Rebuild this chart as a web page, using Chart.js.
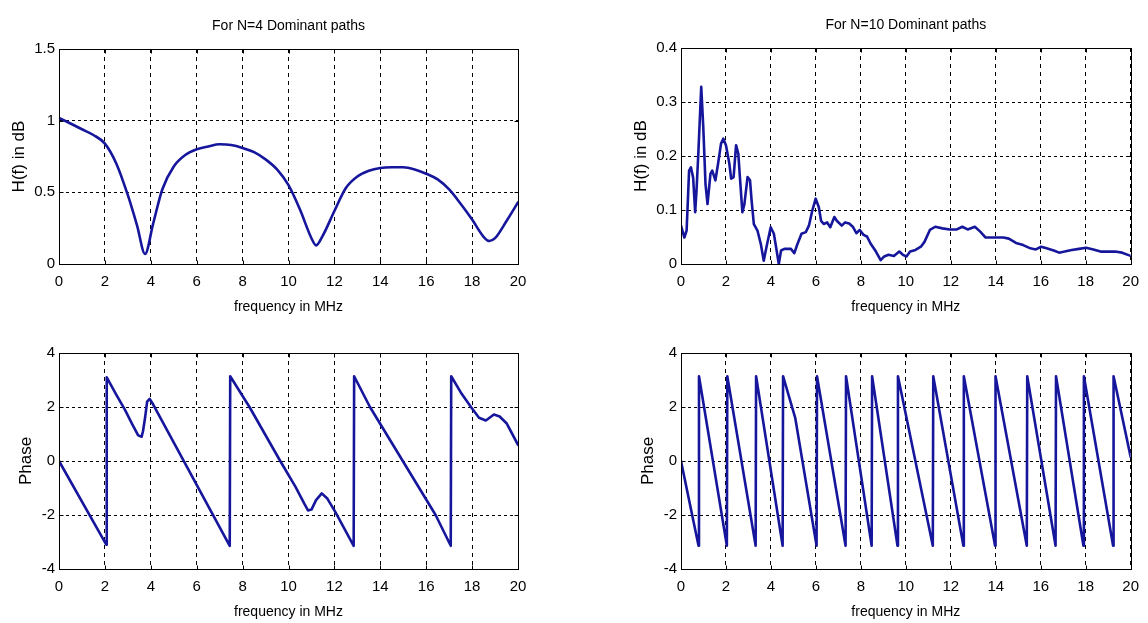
<!DOCTYPE html>
<html><head><meta charset="utf-8">
<script src="https://cdn.jsdelivr.net/npm/chart.js@4.4.1/dist/chart.umd.min.js"></script>
<style>
html,body{margin:0;padding:0;background:#fff;width:1148px;height:623px;overflow:hidden}
canvas{position:absolute;left:0;top:0}
</style></head>
<body>
<canvas id="c1" width="1148" height="623"></canvas>
<canvas id="c2" width="1148" height="623"></canvas>
<canvas id="c3" width="1148" height="623"></canvas>
<canvas id="c4" width="1148" height="623"></canvas>
<script>
// ---- tick labels ----
const xTicks = [0, 2, 4, 6, 8, 10, 12, 14, 16, 18, 20];
const yTicksMagN4 = [0, 0.5, 1, 1.5];
const yTicksMagN10 = [0, 0.1, 0.2, 0.3, 0.4];
const yTicksPhase = [-4, -2, 0, 2, 4];

// ---- N=4 magnitude ----
const freqMagN4 = [0, 0.5, 1.0, 1.5, 2.0, 2.5, 3.0, 3.4, 3.75, 4.1, 4.5, 5.0, 5.5, 6.0, 6.5, 7.0, 7.5, 8.0, 8.5, 9.0, 9.5, 10.0, 10.5, 11.0, 11.2, 11.5, 12.0, 12.5, 13.0, 13.5, 14.0, 14.5, 15.0, 15.5, 16.0, 16.5, 17.0, 17.5, 18.0, 18.5, 18.75, 19.0, 19.5, 20.0];
const magN4 = [1.02, 0.98, 0.94, 0.90, 0.84, 0.70, 0.48, 0.27, 0.07, 0.28, 0.52, 0.68, 0.76, 0.80, 0.82, 0.835, 0.83, 0.81, 0.78, 0.73, 0.66, 0.55, 0.38, 0.18, 0.13, 0.20, 0.37, 0.53, 0.61, 0.65, 0.67, 0.675, 0.675, 0.66, 0.63, 0.59, 0.52, 0.42, 0.31, 0.19, 0.16, 0.18, 0.30, 0.43];

// ---- N=10 magnitude ----
const freqMagN10 = [0, 0.15, 0.25, 0.36, 0.44, 0.54, 0.63, 0.69, 0.77, 0.9, 0.99, 1.09, 1.18, 1.31, 1.39, 1.53, 1.65, 1.78, 1.88, 2.0, 2.15, 2.23, 2.34, 2.45, 2.55, 2.63, 2.73, 2.82, 2.96, 3.07, 3.14, 3.24, 3.4, 3.55, 3.68, 3.8, 3.99, 4.13, 4.23, 4.35, 4.45, 4.6, 4.89, 5.04, 5.18, 5.36, 5.55, 5.69, 5.84, 5.99, 6.13, 6.23, 6.35, 6.5, 6.64, 6.82, 6.93, 7.15, 7.3, 7.48, 7.64, 7.8, 7.95, 8.12, 8.27, 8.43, 8.67, 8.88, 9.04, 9.23, 9.47, 9.71, 9.87, 10.03, 10.19, 10.43, 10.67, 10.83, 11.07, 11.31, 11.63, 11.95, 12.27, 12.51, 12.75, 13.07, 13.31, 13.55, 13.87, 14.34, 14.58, 14.9, 15.22, 15.54, 15.78, 16.02, 16.26, 16.58, 16.82, 17.06, 17.38, 17.7, 18.02, 18.34, 18.66, 18.98, 19.3, 19.62, 20];
const magN10 = [0.071, 0.049, 0.062, 0.173, 0.179, 0.16, 0.096, 0.136, 0.204, 0.328, 0.254, 0.148, 0.111, 0.167, 0.173, 0.155, 0.186, 0.223, 0.232, 0.22, 0.186, 0.158, 0.161, 0.22, 0.204, 0.155, 0.096, 0.111, 0.161, 0.155, 0.118, 0.074, 0.062, 0.037, 0.006, 0.031, 0.068, 0.056, 0.031, 0.0, 0.025, 0.028, 0.028, 0.02, 0.037, 0.056, 0.059, 0.071, 0.099, 0.121, 0.105, 0.08, 0.074, 0.077, 0.068, 0.087, 0.08, 0.071, 0.077, 0.075, 0.069, 0.057, 0.063, 0.054, 0.051, 0.038, 0.023, 0.007, 0.014, 0.017, 0.015, 0.023, 0.017, 0.014, 0.023, 0.026, 0.032, 0.041, 0.063, 0.069, 0.066, 0.064, 0.064, 0.069, 0.064, 0.069, 0.06, 0.049, 0.049, 0.049, 0.047, 0.039, 0.035, 0.029, 0.027, 0.032, 0.029, 0.025, 0.021, 0.023, 0.026, 0.028, 0.03, 0.027, 0.023, 0.023, 0.023, 0.021, 0.015];

// ---- N=4 phase ----
const freqPhaseN4 = [0, 2.06, 2.08, 2.5, 2.87, 3.2, 3.45, 3.6, 3.66, 3.75, 3.84, 3.95, 4.1, 7.44, 7.46, 8.3, 9.64, 10.3, 10.7, 10.85, 11.0, 11.2, 11.45, 11.7, 12.05, 12.84, 12.86, 13.55, 14.98, 16.41, 17.07, 17.09, 17.5, 17.95, 18.3, 18.6, 18.95, 19.2, 19.5, 20];
const phaseN4 = [0, -3.1, 3.1, 2.45, 1.9, 1.35, 0.95, 0.9, 1.1, 1.6, 2.2, 2.3, 2.1, -3.14, 3.14, 2.0, 0, -0.95, -1.6, -1.83, -1.8, -1.45, -1.2, -1.4, -1.9, -3.14, 3.14, 2.0, 0, -2.0, -3.14, 3.14, 2.55, 2.0, 1.6, 1.5, 1.72, 1.65, 1.4, 0.6];

// ---- N=10 phase ----
const freqPhaseN10 = [0, 0.78, 0.8, 2.04, 2.06, 3.32, 3.34, 4.52, 4.54, 5.08, 6.03, 6.05, 7.32, 7.34, 8.48, 8.5, 9.63, 9.65, 11.2, 11.22, 12.56, 12.58, 13.97, 13.99, 15.38, 15.4, 16.66, 16.68, 17.9, 17.92, 19.22, 19.24, 20];
const phaseN10 = [0, -3.14, 3.14, -3.14, 3.14, -3.14, 3.14, -3.14, 3.14, 1.6, -3.14, 3.14, -3.14, 3.14, -3.14, 3.14, -3.14, 3.14, -3.14, 3.14, -3.14, 3.14, -3.14, 3.14, -3.14, 3.14, -3.14, 3.14, -3.14, 3.14, -3.14, 3.14, 0.15];

// ---- text ----
const titleN4 = 'For N=4 Dominant paths';
const titleN10 = 'For N=10 Dominant paths';
const xLabel = 'frequency in MHz';
const yLabelMag = 'H(f) in dB';
const yLabelPhase = 'Phase';

// ---- style ----
const LINE = '#16169c';
const SANS = "'Liberation Sans', Arial, sans-serif";
const W = 1148, H = 623, XH = 54, YW = 59;

const boxPlugin = {
  id: 'box',
  afterDraw(chart) {
    const {ctx, chartArea: a, scales} = chart;
    ctx.save();
    ctx.strokeStyle = '#000';
    ctx.lineWidth = 1;
    ctx.setLineDash([]);
    const L = Math.round(a.left) + 0.5, T = Math.round(a.top) + 0.5;
    const R = Math.round(a.right) + 0.5, B = Math.round(a.bottom) + 0.5;
    ctx.strokeRect(L, T, R - L, B - T);
    ctx.beginPath();
    scales.x.ticks.forEach(t => {
      const px = Math.round(scales.x.getPixelForValue(t.value)) + 0.5;
      ctx.moveTo(px, B); ctx.lineTo(px, B - 4);
      ctx.moveTo(px, T); ctx.lineTo(px, T + 4);
    });
    scales.y.ticks.forEach(t => {
      const py = Math.round(scales.y.getPixelForValue(t.value)) + 0.5;
      ctx.moveTo(L, py); ctx.lineTo(L + 4, py);
      ctx.moveTo(R, py); ctx.lineTo(R - 4, py);
    });
    ctx.stroke();
    ctx.restore();
  }
};

function makeChart(id, area, fx, fy, yTicks, yTitle, yTitleOffset, title, smooth) {
  const [l, t, r, b] = area;
  const n = Math.min(fx.length, fy.length);
  const points = [];
  for (let i = 0; i < n; i++) points.push({x: fx[i], y: fy[i]});
  const ds = {data: points, borderColor: LINE, borderWidth: 2.6, pointRadius: 0, fill: false,
    borderJoinStyle: 'round', borderCapStyle: 'round', tension: 0};
  if (smooth) ds.cubicInterpolationMode = 'monotone';
  new Chart(document.getElementById(id), {
    type: 'line',
    data: {datasets: [ds]},
    options: {
      responsive: false, animation: false, devicePixelRatio: 1,
      layout: {padding: {left: l - YW, right: W - r, top: title ? 0 : t, bottom: H - b - XH}},
      plugins: {
        legend: {display: false}, tooltip: {enabled: false},
        title: title ? {display: true, text: title, fullSize: false, color: '#000',
          font: {family: SANS, size: 14, weight: 'normal', lineHeight: 1.25},
          padding: {top: t - 17.5 - 14, bottom: 14}} : {display: false}
      },
      scales: {
        x: {
          type: 'linear', min: 0, max: 20,
          afterFit(s) { s.height = XH; },
          afterBuildTicks(s) { s.ticks = xTicks.map(v => ({value: v})); },
          ticks: {color: '#000', font: {family: SANS, size: 15}, padding: 9, maxRotation: 0, autoSkip: false, callback: v => String(v)},
          grid: {color: '#000', lineWidth: 1, drawTicks: false},
          border: {display: true, color: '#000', width: 1, dash: [4, 4]},
          title: {display: true, text: xLabel, color: '#000', font: {family: SANS, size: 14, lineHeight: 1.25}, padding: {top: 0, bottom: 2}}
        },
        y: {
          type: 'linear', min: yTicks[0], max: yTicks[yTicks.length - 1],
          afterFit(s) { s.width = YW; },
          afterBuildTicks(s) { s.ticks = yTicks.map(v => ({value: v})); },
          ticks: {color: '#000', font: {family: SANS, size: 15}, padding: 4, autoSkip: false, callback: v => String(v)},
          grid: {color: '#000', lineWidth: 1, drawTicks: false},
          border: {display: true, color: '#000', width: 1, dash: [3, 3]},
          title: {display: true, text: yTitle, color: '#000', font: {family: SANS, size: 17, lineHeight: 1.125}, padding: {top: yTitleOffset - 9.5, bottom: 0}}
        }
      }
    },
    plugins: [boxPlugin]
  });
}

makeChart('c1', [59, 49, 518, 264], freqMagN4, magN4, yTicksMagN4, yLabelMag, 19, titleN4, true);
makeChart('c2', [681, 48, 1139, 264], freqMagN10, magN10, yTicksMagN10, yLabelMag, 19, titleN10, false);
makeChart('c3', [59, 353, 518, 569], freqPhaseN4, phaseN4, yTicksPhase, yLabelPhase, 26, null, false);
makeChart('c4', [681, 353, 1139, 569], freqPhaseN10, phaseN10, yTicksPhase, yLabelPhase, 26, null, false);
</script>
</body></html>
